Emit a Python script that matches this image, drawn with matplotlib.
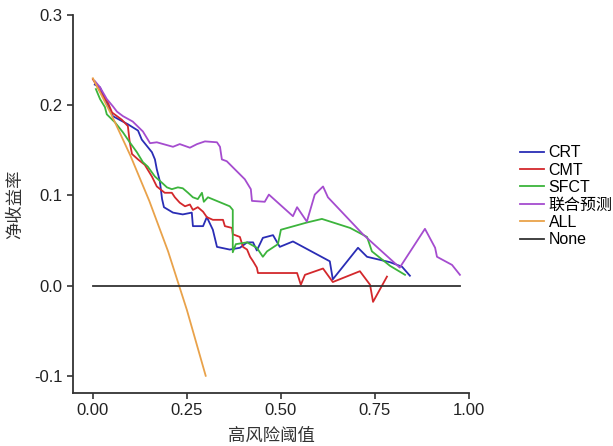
import numpy as np
import matplotlib
matplotlib.use("Agg")
import matplotlib.pyplot as plt

plt.rcParams["font.family"] = ["Liberation Sans", "Noto Sans CJK SC"]

# ===== DATA =====
crt_x = [0.005, 0.019, 0.032, 0.053, 0.093, 0.120, 0.130, 0.157, 0.165, 0.170,
         0.178, 0.184, 0.189, 0.213, 0.239, 0.263, 0.266, 0.293, 0.303, 0.319,
         0.330, 0.364, 0.391, 0.410, 0.426, 0.436, 0.452, 0.479, 0.497, 0.532,
         0.630, 0.638, 0.705, 0.729, 0.790, 0.822, 0.843]
crt_y = [0.223, 0.220, 0.207, 0.188, 0.179, 0.172, 0.162, 0.148, 0.140, 0.129,
         0.116, 0.096, 0.087, 0.081, 0.079, 0.081, 0.066, 0.066, 0.076, 0.062,
         0.043, 0.040, 0.042, 0.048, 0.048, 0.039, 0.053, 0.056, 0.043, 0.049,
         0.027, 0.007, 0.042, 0.032, 0.026, 0.021, 0.011]

cmt_x = [0.000, 0.024, 0.040, 0.051, 0.077, 0.093, 0.098, 0.104, 0.120, 0.138,
         0.157, 0.170, 0.191, 0.210, 0.218, 0.231, 0.245, 0.258, 0.266, 0.279,
         0.293, 0.303, 0.319, 0.346, 0.351, 0.370, 0.372, 0.391, 0.399, 0.410,
         0.418, 0.426, 0.436, 0.439, 0.543, 0.553, 0.564, 0.612, 0.638, 0.710,
         0.737, 0.745, 0.782]
cmt_y = [0.229, 0.212, 0.203, 0.192, 0.184, 0.177, 0.159, 0.146, 0.140, 0.134,
         0.121, 0.110, 0.103, 0.103, 0.098, 0.092, 0.088, 0.090, 0.084, 0.087,
         0.082, 0.076, 0.073, 0.073, 0.066, 0.064, 0.057, 0.054, 0.043, 0.040,
         0.032, 0.027, 0.020, 0.014, 0.014, 0.001, 0.012, 0.019, 0.004, 0.016,
         0.001, -0.018, 0.010]

sfct_x = [0.008, 0.019, 0.032, 0.037, 0.059, 0.080, 0.098, 0.117, 0.133, 0.146,
          0.165, 0.184, 0.197, 0.210, 0.226, 0.239, 0.253, 0.266, 0.279, 0.290,
          0.295, 0.306, 0.364, 0.372, 0.372, 0.380, 0.410, 0.436, 0.452, 0.463,
          0.492, 0.500, 0.569, 0.609, 0.684, 0.729, 0.742, 0.790, 0.830]
sfct_y = [0.218, 0.207, 0.198, 0.190, 0.181, 0.170, 0.159, 0.148, 0.137, 0.132,
          0.121, 0.114, 0.109, 0.107, 0.109, 0.108, 0.103, 0.098, 0.096, 0.103,
          0.093, 0.098, 0.088, 0.084, 0.037, 0.046, 0.048, 0.042, 0.032, 0.038,
          0.046, 0.062, 0.070, 0.074, 0.064, 0.054, 0.038, 0.022, 0.012]

combo_x = [0.005, 0.019, 0.037, 0.053, 0.064, 0.080, 0.106, 0.133, 0.152, 0.170,
           0.213, 0.231, 0.258, 0.277, 0.298, 0.330, 0.338, 0.343, 0.356, 0.404,
           0.420, 0.423, 0.457, 0.468, 0.532, 0.543, 0.569, 0.590, 0.612, 0.625,
           0.718, 0.763, 0.816, 0.883, 0.910, 0.915, 0.955, 0.976]
combo_y = [0.227, 0.220, 0.207, 0.199, 0.193, 0.188, 0.182, 0.171, 0.158, 0.159,
           0.154, 0.157, 0.153, 0.157, 0.160, 0.159, 0.154, 0.140, 0.138, 0.118,
           0.107, 0.094, 0.093, 0.101, 0.077, 0.087, 0.071, 0.101, 0.110, 0.098,
           0.057, 0.040, 0.020, 0.063, 0.042, 0.032, 0.023, 0.012]

all_x = [0.00, 0.05, 0.10, 0.15, 0.20, 0.25, 0.30]
all_y = [0.230, 0.189, 0.144, 0.094, 0.038, -0.027, -0.100]

none_x = [0.0, 0.975]
none_y = [0.0, 0.0]

series = [
    ("CRT", crt_x, crt_y, "#2a2db5"),
    ("CMT", cmt_x, cmt_y, "#d3282c"),
    ("SFCT", sfct_x, sfct_y, "#3cb43c"),
    ("联合预测", combo_x, combo_y, "#a54ccf"),
    ("ALL", all_x, all_y, "#e9a24a"),
    ("None", none_x, none_y, "#333333"),
]

# ===== PLOT =====
fig = plt.figure(figsize=(6.13, 4.46), dpi=100)
ax = fig.add_axes([0.119, 0.119, 0.646, 0.847])

for label, xs, ys, color in series:
    ax.plot(xs, ys, color=color, linewidth=1.3, label=label)

ax.set_xlim(-0.053, 1.0)
ax.set_ylim(-0.119, 0.3)
ax.set_xticks([0.0, 0.25, 0.5, 0.75, 1.0])
ax.set_xticklabels(["0.00", "0.25", "0.50", "0.75", "1.00"])
ax.set_yticks([-0.1, 0.0, 0.1, 0.2, 0.3])
ax.set_yticklabels(["-0.1", "0.0", "0.1", "0.2", "0.3"])

for side in ["top", "right"]:
    ax.spines[side].set_visible(False)
for side in ["left", "bottom"]:
    ax.spines[side].set_color("#333333")
    ax.spines[side].set_linewidth(1.3)
ax.tick_params(axis="both", colors="#333333", labelcolor="#222222",
               labelsize=12, length=4, width=1.2)

ax.set_xlabel("高风险阈值", fontsize=12.5, color="#333333", labelpad=7)
ax.set_ylabel("净收益率", fontsize=12.5, color="#333333", labelpad=8)

fig.legend(loc="center left", bbox_to_anchor=(0.83, 0.56), frameon=False,
           fontsize=11.5, handlelength=1.5, handletextpad=0.3, labelspacing=0.15,
           borderpad=0.2)

fig.savefig("out.png", dpi=100)
